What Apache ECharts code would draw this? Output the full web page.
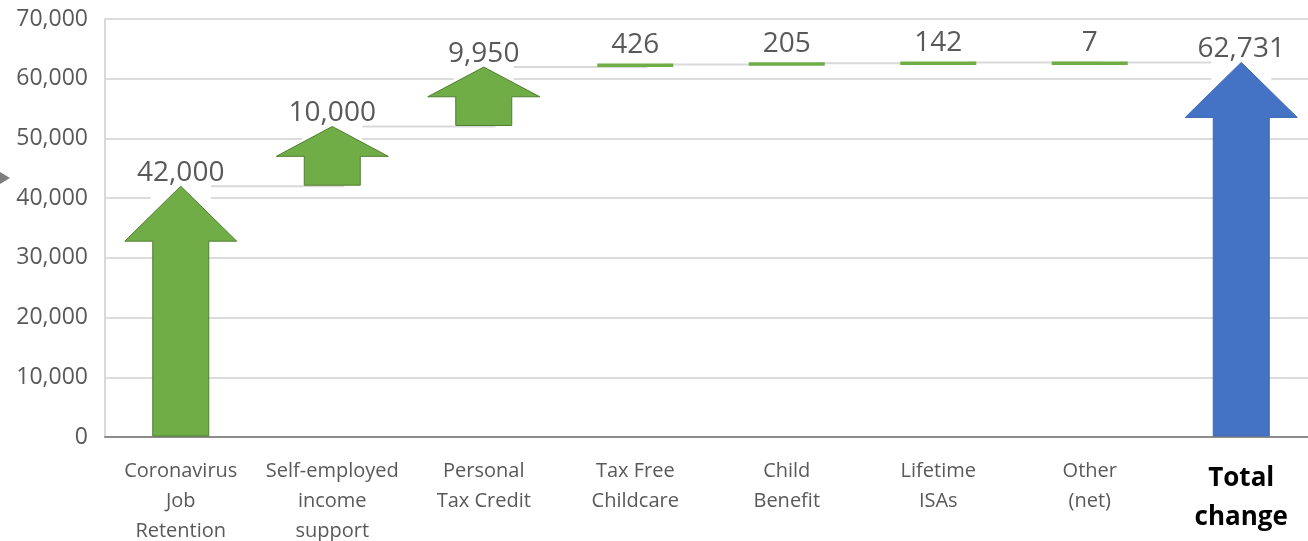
<!DOCTYPE html>
<html>
<head>
<meta charset="utf-8">
<script src="https://cdn.jsdelivr.net/npm/echarts@6/dist/echarts.min.js"></script>
<style>
  html, body { margin: 0; padding: 0; background: #fff; }
  #chart { width: 1308px; height: 541px; }
</style>
</head>
<body>
<div id="chart"></div>
<script>
// categories and values
const categories = [
  'Coronavirus\nJob\nRetention',
  'Self-employed\nincome\nsupport',
  'Personal\nTax Credit',
  'Tax Free\nChildcare',
  'Child\nBenefit',
  'Lifetime\nISAs',
  'Other\n(net)',
  'Total\nchange'
];
const changes = [42000, 10000, 9950, 426, 205, 142, 7];
const totalChange = 62731;
const yMin = 0;
const yMax = 70000;
const yStep = 10000;

const FONT = '"Open Sans", "Noto Sans", sans-serif';

// waterfall rows: [index, from, to, label value]
const steps = [];
const connectors = [];
let running = 0;
changes.forEach((v, i) => {
  steps.push([i, running, running + v, v]);
  running += v;
  connectors.push([i, running]);
});
steps.push([categories.length - 1, 0, totalChange, totalChange]);

const chart = echarts.init(document.getElementById('chart'));

function renderArrow(params, api) {
  const i = api.value(0);
  const p0 = api.coord([i, api.value(1)]);
  const p1 = api.coord([i, api.value(2)]);
  const cx = p0[0];
  const h = p0[1] - p1[1];
  const isTotal = i === categories.length - 1;
  const fill = isTotal ? '#4472c4' : '#70ad47';
  const stroke = isTotal ? '#3d67b3' : '#507e32';
  const children = [];
  let labelY = p1[1] + 1;
  if (h < 8) {
    // too small for an arrow, shown as a flat bar
    children.push({
      type: 'rect',
      shape: { x: cx - 38, y: p1[1] - 1, width: 76, height: 3.5 },
      style: { fill: fill }
    });
    labelY = p1[1] - 5;
  } else {
    const head = Math.min(55, h * 0.5);
    const sw = 28;
    const hw = 56;
    const top = p1[1];
    const bot = p0[1] - 1;
    children.push({
      type: 'rect',
      shape: { x: cx - 30, y: top - 2, width: 60, height: head + 2 },
      style: { fill: '#fff' }
    });
    children.push({
      type: 'polygon',
      shape: {
        points: [
          [cx, top], [cx + hw, top + head], [cx + sw, top + head],
          [cx + sw, bot], [cx - sw, bot], [cx - sw, top + head],
          [cx - hw, top + head]
        ]
      },
      style: { fill: fill, stroke: stroke, lineWidth: 1 }
    });
  }
  children.push({
    type: 'text',
    style: {
      x: cx,
      y: labelY,
      text: api.value(3).toLocaleString('en-US'),
      align: 'center',
      verticalAlign: 'bottom',
      fill: '#595959',
      font: '28px ' + FONT
    }
  });
  return { type: 'group', children: children };
}

function renderConnector(params, api) {
  const i = api.value(0);
  const a = api.coord([i, api.value(1)]);
  const b = api.coord([i + 1, api.value(1)]);
  return {
    type: 'line',
    shape: { x1: a[0] + 30, y1: a[1], x2: b[0] + 12, y2: b[1] },
    style: { stroke: '#d9d9d9', lineWidth: 2 }
  };
}

const option = {
  animation: false,
  backgroundColor: '#fff',
  grid: {
    left: 105,
    top: 19,
    width: 1212,
    height: 418,
    containLabel: false,
    outerBoundsMode: 'none'
  },
  xAxis: {
    type: 'category',
    data: categories,
    axisLine: { lineStyle: { color: '#8c8c8c', width: 2 } },
    axisTick: { show: false },
    axisLabel: {
      interval: 0,
      margin: 19,
      color: '#595959',
      fontFamily: FONT,
      fontSize: 20,
      lineHeight: 30,
      formatter: function (value, idx) {
        if (idx === categories.length - 1) {
          return value.split('\n').map(s => '{b|' + s + '}').join('\n');
        }
        return value;
      },
      rich: {
        b: { fontFamily: FONT, fontSize: 26, fontWeight: 'bold', color: '#000', lineHeight: 39, padding: [6, 0, 0, 0] }
      }
    }
  },
  yAxis: {
    type: 'value',
    min: yMin,
    max: yMax,
    interval: yStep,
    axisLine: { show: true, lineStyle: { color: '#d9d9d9', width: 2 } },
    axisTick: { show: false },
    splitLine: { lineStyle: { color: '#dcdcdc', width: 2 } },
    axisLabel: {
      margin: 17,
      color: '#595959',
      fontFamily: FONT,
      fontSize: 23,
      formatter: v => v.toLocaleString('en-US')
    }
  },
  graphic: [{
    type: 'polygon',
    shape: { points: [[0, 172], [10, 178], [0, 184]] },
    style: { fill: '#7f7f7f' }
  }],
  series: [
    {
      type: 'custom',
      z: 2,
      renderItem: renderConnector,
      encode: { x: 0, y: 1 },
      data: connectors
    },
    {
      type: 'custom',
      z: 3,
      renderItem: renderArrow,
      encode: { x: 0, y: [1, 2] },
      data: steps
    }
  ]
};

chart.setOption(option);
</script>
</body>
</html>
